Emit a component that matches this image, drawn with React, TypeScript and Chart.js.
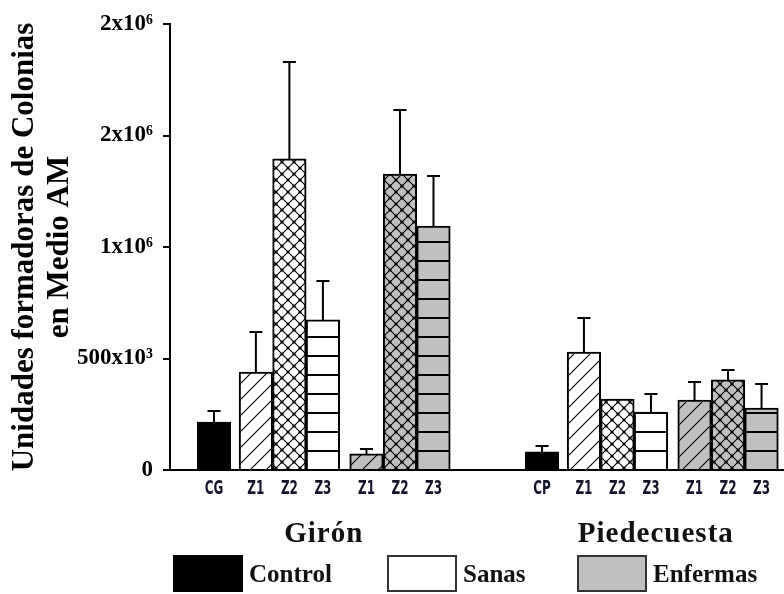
import React, { useEffect, useRef } from 'react';
import { Chart, registerables } from 'chart.js';

Chart.register(...registerables);

// ---------------- data ----------------
const groups = ['Girón', 'Piedecuesta'];
const treatments = ['Control', 'Sanas', 'Enfermas'];
const gironLabels = ['CG', 'Z1', 'Z2', 'Z3', 'Z1', 'Z2', 'Z3'];
const piedecuestaLabels = ['CP', 'Z1', 'Z2', 'Z3', 'Z1', 'Z2', 'Z3'];
// treatment index of each bar inside a group (0 Control, 1 Sanas, 2 Enfermas)
const barTreatment = [0, 1, 1, 1, 2, 2, 2];
// hatch of each bar inside a group (0 none, 1 diagonal, 2 cross, 3 horizontal)
const barHatch = [0, 1, 2, 3, 1, 2, 3];
const gironMeans = [215000, 439000, 1395000, 673000, 72000, 1327000, 1094000];
const gironErrors = [50000, 180000, 435000, 175000, 22000, 287000, 224000];
const piedecuestaMeans = [81000, 529000, 318000, 260000, 314000, 404000, 278000];
const piedecuestaErrors = [27000, 153000, null, 81000, 81000, 44000, 108000];
const yTickValues = [0, 500000, 1000000, 1500000, 2000000];
const yTickLabels = ['0', '500x10³', '1x10⁶', '2x10⁶', '2x10⁶'];
const yTitle = ['Unidades formadoras de Colonias', 'en Medio AM'];

// ---------------- layout ----------------
const SERIF = '"Liberation Serif", "Times New Roman", serif';
const NARROW = '"DejaVu Sans Condensed", "DejaVu Sans", sans-serif';
const GAP_CTRL = 0.25;
const GAP_SUB = 0.3;
const GAP_GROUP = 2.24;
const X_MIN = -1.313;
const X_MAX = 17.01;

function groupPositions(start: number): number[] {
  const p: number[] = [start];
  for (let i = 1; i < barTreatment.length; i++) {
    let gap = 0;
    if (barTreatment[i] !== barTreatment[i - 1]) gap = barTreatment[i - 1] === 0 ? GAP_CTRL : GAP_SUB;
    p.push(p[i - 1] + 1 + gap);
  }
  return p;
}
const gPos = groupPositions(0);
const pPos = groupPositions(gPos[gPos.length - 1] + 1 + GAP_GROUP);
const allPos = [...gPos, ...pPos];
const allLabels = [...gironLabels, ...piedecuestaLabels];
const allMeans = [...gironMeans, ...piedecuestaMeans];
const allErrors = [...gironErrors, ...piedecuestaErrors];
const allTreat = [...barTreatment, ...barTreatment];
const allHatch = [...barHatch, ...barHatch];

const treatColors = ['#000000', '#ffffff', '#c0c0c0'];

function makeFill(hatch: number, bg: string): any {
  if (hatch === 0) return bg;
  const c = document.createElement('canvas');
  const x = c.getContext('2d')!;
  if (hatch === 1) {
    const s = 16;
    c.width = s; c.height = s;
    x.fillStyle = bg; x.fillRect(0, 0, s, s);
    x.strokeStyle = '#000'; x.lineWidth = 1.1;
    x.beginPath();
    x.moveTo(0, s); x.lineTo(s, 0);
    x.moveTo(-2, 2); x.lineTo(2, -2);
    x.moveTo(s - 2, s + 2); x.lineTo(s + 2, s - 2);
    x.stroke();
  } else if (hatch === 2) {
    const s = 12;
    c.width = s; c.height = s;
    x.fillStyle = bg; x.fillRect(0, 0, s, s);
    x.strokeStyle = '#000'; x.lineWidth = 1.1;
    x.beginPath();
    x.moveTo(0, 0); x.lineTo(s, s);
    x.moveTo(0, s); x.lineTo(s, 0);
    x.stroke();
    x.fillStyle = '#000';
    const dots = [[s / 2, s / 2], [0, 0], [s, 0], [0, s], [s, s]];
    dots.forEach(([a, b]) => { x.beginPath(); x.arc(a, b, 1.6, 0, Math.PI * 2); x.fill(); });
  } else {
    c.width = 8; c.height = 19;
    x.fillStyle = bg; x.fillRect(0, 0, 8, 19);
    x.fillStyle = '#000'; x.fillRect(0, 13, 8, 2);
  }
  return x.createPattern(c, 'repeat');
}

const errorBarsPlugin = {
  id: 'errorBars',
  afterDatasetsDraw(chart: any) {
    const meta = chart.getDatasetMeta(0);
    const y = chart.scales.y;
    const ctx = chart.ctx;
    ctx.save();
    ctx.strokeStyle = '#000';
    ctx.lineWidth = 2;
    meta.data.forEach((bar: any, i: number) => {
      const e = allErrors[i];
      if (e == null) return;
      const top = y.getPixelForValue(allMeans[i] + e);
      ctx.beginPath();
      ctx.moveTo(bar.x, bar.y);
      ctx.lineTo(bar.x, top);
      ctx.moveTo(bar.x - 6.5, top);
      ctx.lineTo(bar.x + 6.5, top);
      ctx.stroke();
    });
    ctx.restore();
  },
};

const annotationsPlugin = {
  id: 'annotations',
  afterDraw(chart: any) {
    const ctx = chart.ctx;
    const xs = chart.scales.x;
    ctx.save();
    // condensed bar labels under the axis
    ctx.fillStyle = '#15152a';
    ctx.font = `bold 18px ${NARROW}`;
    ctx.textAlign = 'center';
    ctx.textBaseline = 'alphabetic';
    allLabels.forEach((l, i) => {
      const px = xs.getPixelForValue(allPos[i]);
      ctx.save();
      ctx.translate(px, 494);
      ctx.scale(0.74, 1.12);
      ctx.fillText(l, 0, 0);
      ctx.restore();
    });
    // group labels
    ctx.fillStyle = '#111';
    ctx.font = `bold 29px ${SERIF}`;
    ctx.textAlign = 'center';
    (ctx as any).letterSpacing = '1px';
    const groupPos = [gPos, pPos];
    groups.forEach((g, i) => {
      const p = groupPos[i];
      const cx = (xs.getPixelForValue(p[0]) + xs.getPixelForValue(p[p.length - 1])) / 2;
      ctx.fillText(g, cx + (i === 1 ? 4 : 0), 542);
    });
    (ctx as any).letterSpacing = '0px';
    // legend
    const boxX = [173, 387, 577];
    const boxY = 555;
    const boxW = 70;
    const boxH = 37;
    treatments.forEach((t, i) => {
      ctx.fillStyle = treatColors[i];
      ctx.fillRect(boxX[i], boxY, boxW, boxH);
      ctx.strokeStyle = i === 0 ? '#000' : '#333';
      ctx.lineWidth = 2;
      ctx.strokeRect(boxX[i] + 1, boxY + 1, boxW - 2, boxH - 2);
      ctx.fillStyle = '#111';
      ctx.font = `bold 25px ${SERIF}`;
      ctx.textAlign = 'left';
      ctx.fillText(t, boxX[i] + 76, 582);
    });
    ctx.restore();
  },
};

export default function App() {
  const ref = useRef<HTMLCanvasElement>(null);
  useEffect(() => {
    document.body.style.margin = '0';
    const fills = allHatch.map((h, i) => makeFill(h, treatColors[allTreat[i]]));
    const chart = new Chart(ref.current!, {
      type: 'bar',
      data: {
        datasets: [
          {
            data: allPos.map((x, i) => ({ x, y: allMeans[i] })),
            backgroundColor: fills,
            borderColor: '#000',
            borderWidth: 2,
            borderSkipped: 'start',
            barPercentage: 1,
            categoryPercentage: 1,
          } as any,
        ],
      },
      options: {
        animation: false,
        responsive: false,
        layout: { padding: { top: 24, left: 0, right: 0, bottom: 0 } },
        plugins: { legend: { display: false }, tooltip: { enabled: false } },
        scales: {
          x: {
            type: 'linear',
            offset: false,
            min: X_MIN,
            max: X_MAX,
            z: 1,
            afterBuildTicks: (s: any) => { s.ticks = allPos.map((v) => ({ value: v })); },
            afterFit: (s: any) => { s.height = 124; },
            grid: { display: false },
            border: { display: true, color: '#000', width: 2 },
            ticks: {
              display: false,
              autoSkip: false,
              maxRotation: 0,
              minRotation: 0,
              callback: (_v: any, i: number) => allLabels[i],
            },
          },
          y: {
            min: 0,
            max: 2000000,
            afterBuildTicks: (s: any) => { s.ticks = yTickValues.map((v) => ({ value: v })); },
            afterFit: (s: any) => { s.width = 170; },
            grid: { drawOnChartArea: false, tickLength: 7, color: '#000', lineWidth: 2 },
            border: { display: true, color: '#000', width: 2 },
            ticks: {
              padding: 10,
              color: '#000',
              font: { family: SERIF, size: 23, weight: 'bold' },
              callback: (_v: any, i: number) => yTickLabels[i],
            },
            title: {
              display: true,
              text: yTitle,
              color: '#000',
              font: { family: SERIF, size: 31, weight: 'bold', lineHeight: 1.15 },
              padding: { top: 7, bottom: 0 },
            },
          },
        },
      } as any,
      plugins: [errorBarsPlugin, annotationsPlugin],
    });
    return () => chart.destroy();
  }, []);
  return (
    <div style={{ position: 'fixed', left: 0, top: 0, width: 784, height: 594, background: '#fff' }}>
      <canvas ref={ref} width={784} height={594} style={{ display: 'block' }} />
    </div>
  );
}
